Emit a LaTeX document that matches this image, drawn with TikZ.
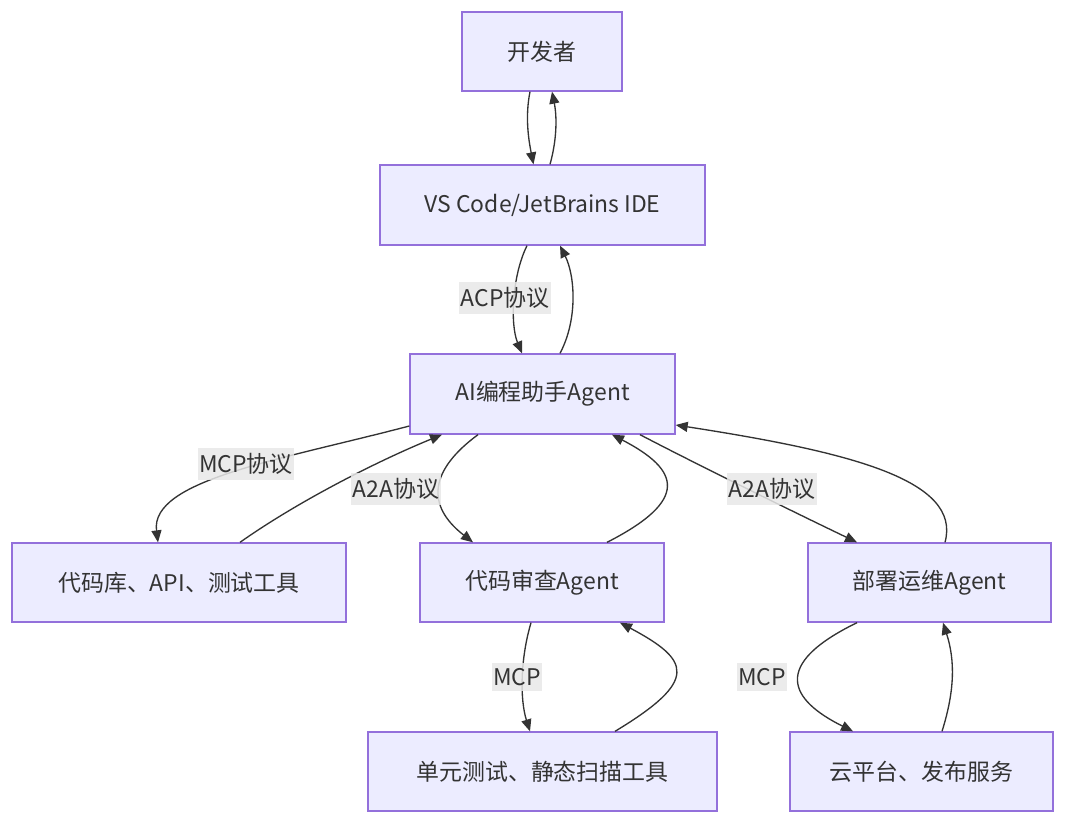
\documentclass[tikz,border=0pt]{standalone}
\usepackage{fontspec}
\setmainfont{Noto Sans CJK SC}
\usetikzlibrary{arrows.meta,calc}
\definecolor{boxfill}{HTML}{ECECFF}
\definecolor{boxline}{HTML}{9370DB}
\definecolor{ink}{HTML}{333333}
\definecolor{lblbg}{HTML}{E8E8E8}
\tikzset{
  box/.style={draw=boxline, fill=boxfill, line width=1pt, rectangle, inner sep=0pt,
    text=ink, font=\fontsize{17.2}{20}\selectfont},
  lbl/.style={fill=lblbg, fill opacity=0.85, text opacity=1, text=ink, inner xsep=1pt, inner ysep=4pt,
    font=\fontsize{17.2}{20}\selectfont},
  conn/.style={draw=ink, line width=1pt, -{Triangle[length=9pt,width=7.5pt]}},
}
\begin{document}
\begin{tikzpicture}[x=0.75pt,y=-0.75pt]
\useasboundingbox[fill=white] (0,0) rectangle (1080,824);
\node[box, minimum width=120pt, minimum height=59.25pt] (dev) at (542,51.5) {开发者};
\node[box, minimum width=243.75pt, minimum height=60pt] (ide) at (542.5,205) {VS Code/JetBrains IDE};
\node[box, minimum width=198.75pt, minimum height=60pt] (ai) at (542.5,394) {AI编程助手Agent};
\node[box, minimum width=250.5pt, minimum height=59.25pt] (repo) at (179,582.5) {代码库、API、测试工具};
\node[box, minimum width=183pt, minimum height=59.25pt] (review) at (542,582.5) {代码审查Agent};
\node[box, minimum width=182.25pt, minimum height=59.25pt] (deploy) at (929.5,582.5) {部署运维Agent};
\node[box, minimum width=261.75pt, minimum height=59.25pt] (unit) at (542.5,771.5) {单元测试、静态扫描工具};
\node[box, minimum width=197.25pt, minimum height=59.25pt] (cloud) at (921.5,771.5) {云平台、发布服务};

% dev <-> ide
\draw[conn] ($(dev.south)+(-12,0)$) .. controls +(-5,25) and +(-5,-25) .. ($(ide.north)+(-9,0)$);
\draw[conn] ($(ide.north)+(7.5,0)$) .. controls +(7,-25) and +(5,25) .. ($(dev.south)+(10,0)$);

% ide <-> ai
\draw[conn] ($(ide.south)+(-15.5,0)$) .. controls +(-15,30) and +(-12,-29) .. ($(ai.north)+(-20.5,0)$);
\draw[conn] ($(ai.north)+(17.5,0)$) .. controls +(18,-34) and +(15,30) .. ($(ide.south)+(17.5,0)$);

% ai <-> repo
\draw[conn] ($(ai.west)+(0,32)$) .. controls (280,460) and (150,480) .. ($(repo.north)+(-21,0)$);
\draw[conn] ($(repo.north)+(61,0)$) .. controls (300,500) and (380,460) .. ($(ai.south)+(-100.5,0)$);

% ai <-> review
\draw[conn] ($(ai.south)+(-64.5,0)$) .. controls (430,470) and (425,505) .. ($(review.north)+(-69,0)$);
\draw[conn] ($(review.north)+(65,0)$) .. controls (690,500) and (680,470) .. ($(ai.south)+(69.5,0)$);

% ai <-> deploy
\draw[conn] ($(ai.south)+(97.5,0)$) .. controls (700,466) and (800,515) .. ($(deploy.north)+(-72.5,0)$);
\draw[conn] ($(deploy.north)+(15.5,0)$) .. controls (962,480) and (850,452) .. ($(ai.east)+(0,31)$);

% review <-> unit
\draw[conn] ($(review.south)+(-11,0)$) .. controls (520,660) and (520,700) .. ($(unit.north)+(-12.5,0)$);
\draw[conn] ($(unit.north)+(72.5,0)$) .. controls (700,680) and (690,660) .. ($(review.south)+(78,0)$);

% deploy <-> cloud
\draw[conn] ($(deploy.south)+(-72.5,0)$) .. controls (770,665) and (790,700) .. ($(cloud.north)+(-68.5,0)$);
\draw[conn] ($(cloud.north)+(20.5,0)$) .. controls (955,690) and (955,660) .. ($(deploy.south)+(13.5,0)$);

% labels
\node[lbl] (l1) at (505,298) {ACP协议};
\node[lbl] (l2) at (246,464) {MCP协议};
\node[lbl] (l3) at (396,489) {A2A协议};
\node[lbl] (l4) at (772,489) {A2A协议};
\node[lbl] (l5) at (517,677) {MCP};
\node[lbl] (l6) at (762,677) {MCP};
\end{tikzpicture}
\end{document}
